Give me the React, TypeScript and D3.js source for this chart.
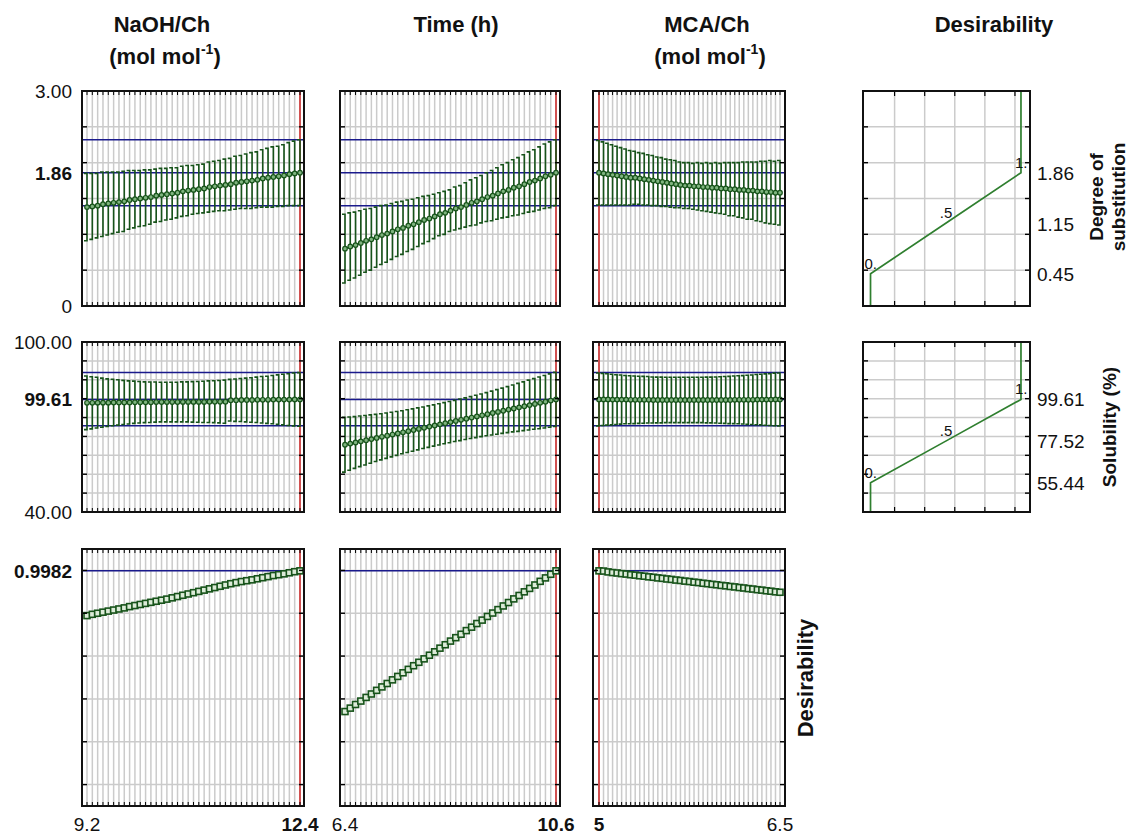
import React from 'react';
import * as d3 from 'd3';

// ---------- data ----------
const N = 41;
const naohRange = [9.2, 12.4];
const timeRange = [6.4, 10.6];
const mcaRange = [5, 6.5];
const currentSettings = [12.4, 10.6, 5];
const xTickLabels = [["9.2", "12.4"], ["6.4", "10.6"], ["5", "6.5"]];
const colTitles = [["NaOH/Ch", "(mol mol", "-1", ")"], ["Time (h)"], ["MCA/Ch", "(mol mol", "-1", ")"]];

// Degree of substitution (row 1)
const dsNaoh = [1.38,1.39,1.40,1.42,1.43,1.44,1.45,1.46,1.48,1.49,1.50,1.51,1.52,1.54,1.55,1.56,1.57,1.58,1.60,1.61,1.62,1.63,1.64,1.66,1.67,1.68,1.69,1.70,1.72,1.73,1.74,1.75,1.76,1.78,1.79,1.80,1.81,1.82,1.84,1.85,1.86];
const dsNaohCi = [0.47,0.46,0.45,0.45,0.44,0.43,0.42,0.42,0.41,0.40,0.39,0.39,0.38,0.37,0.37,0.36,0.36,0.35,0.35,0.35,0.34,0.34,0.34,0.35,0.35,0.35,0.36,0.36,0.37,0.37,0.38,0.39,0.39,0.40,0.41,0.42,0.42,0.43,0.44,0.45,0.46];
const dsTime = [0.80,0.83,0.85,0.88,0.91,0.93,0.96,0.99,1.01,1.04,1.07,1.09,1.12,1.14,1.17,1.20,1.22,1.25,1.28,1.30,1.33,1.36,1.38,1.41,1.44,1.46,1.49,1.52,1.54,1.57,1.60,1.62,1.65,1.67,1.70,1.73,1.75,1.78,1.81,1.83,1.86];
const dsTimeCi = [0.48,0.47,0.46,0.45,0.44,0.43,0.42,0.41,0.40,0.39,0.38,0.37,0.36,0.35,0.34,0.33,0.32,0.31,0.30,0.30,0.29,0.30,0.30,0.31,0.32,0.33,0.33,0.34,0.35,0.36,0.37,0.38,0.39,0.40,0.41,0.42,0.43,0.44,0.45,0.46,0.46];
const dsMca = [1.86,1.85,1.84,1.83,1.82,1.81,1.80,1.79,1.79,1.78,1.77,1.76,1.75,1.74,1.73,1.72,1.71,1.70,1.69,1.68,1.68,1.67,1.67,1.66,1.66,1.65,1.65,1.64,1.64,1.63,1.63,1.62,1.62,1.61,1.61,1.60,1.60,1.59,1.59,1.58,1.58];
const dsMcaCi = [0.45,0.44,0.43,0.42,0.41,0.40,0.39,0.38,0.37,0.36,0.36,0.35,0.35,0.34,0.34,0.33,0.33,0.33,0.32,0.32,0.32,0.32,0.33,0.33,0.34,0.34,0.35,0.35,0.36,0.37,0.37,0.38,0.39,0.40,0.40,0.41,0.42,0.43,0.44,0.44,0.45];

// Solubility (row 2)
const solNaoh = [97.8,97.8,97.9,97.9,97.9,98.0,98.0,98.0,98.0,98.1,98.1,98.1,98.1,98.2,98.2,98.2,98.2,98.2,98.3,98.3,98.3,98.3,98.3,98.4,98.4,98.4,98.4,99.2,99.2,99.3,99.3,99.3,99.4,99.4,99.4,99.5,99.5,99.5,99.5,99.6,99.6];
const solNaohCi = [14.2,13.8,13.4,13.0,12.6,12.3,12.0,11.7,11.4,11.2,11.0,10.8,10.7,10.6,10.5,10.5,10.5,10.5,10.6,10.6,10.7,10.8,10.9,11.0,11.1,11.2,11.4,11.0,11.2,11.4,11.6,11.8,12.0,12.3,12.5,12.8,13.1,13.4,13.7,14.0,14.2];
const solTime = [75.6,76.2,76.8,77.4,78.0,78.6,79.2,79.8,80.4,81.0,81.6,82.2,82.8,83.4,84.0,84.6,85.2,85.8,86.4,87.0,87.6,88.2,88.8,89.4,90.0,90.6,91.2,91.8,92.4,93.0,93.6,94.2,94.8,95.4,96.0,96.6,97.2,97.8,98.4,99.0,99.6];
const solTimeCi = [14.5,14.1,13.7,13.4,13.1,12.8,12.5,12.2,12.0,11.8,11.6,11.4,11.3,11.2,11.1,11.0,11.0,10.9,10.9,10.9,10.9,10.9,11.0,11.0,11.1,11.2,11.3,11.4,11.6,11.8,12.0,12.2,12.4,12.7,12.9,13.2,13.4,13.7,13.9,14.1,14.3];
const solMca = [99.6,99.6,99.6,99.5,99.5,99.5,99.5,99.4,99.4,99.4,99.4,99.4,99.3,99.3,99.3,99.3,99.3,99.3,99.3,99.3,99.3,99.3,99.3,99.3,99.3,99.3,99.3,99.3,99.3,99.3,99.4,99.4,99.4,99.4,99.4,99.5,99.5,99.5,99.5,99.6,99.6];
const solMcaCi = [14.0,13.8,13.6,13.4,13.2,13.0,12.8,12.7,12.6,12.5,12.4,12.3,12.2,12.1,12.1,12.0,12.0,12.0,12.0,12.0,12.0,12.0,12.0,12.0,12.1,12.1,12.2,12.3,12.4,12.5,12.6,12.7,12.8,13.0,13.1,13.3,13.4,13.6,13.7,13.9,14.0];

// Overall desirability (row 3)
const desNaoh = [0.789,0.795,0.800,0.805,0.810,0.815,0.820,0.825,0.831,0.836,0.841,0.846,0.851,0.856,0.861,0.866,0.872,0.878,0.884,0.890,0.896,0.902,0.908,0.914,0.920,0.926,0.932,0.938,0.943,0.948,0.952,0.956,0.961,0.966,0.971,0.976,0.980,0.984,0.989,0.994,0.998];
const desTime = [0.341,0.357,0.374,0.390,0.407,0.423,0.440,0.456,0.472,0.489,0.505,0.522,0.538,0.555,0.571,0.587,0.604,0.620,0.637,0.653,0.670,0.686,0.702,0.719,0.735,0.752,0.768,0.785,0.801,0.817,0.834,0.850,0.867,0.883,0.900,0.916,0.932,0.949,0.965,0.982,0.998];
const desMca = [0.998,0.997,0.993,0.990,0.988,0.985,0.983,0.980,0.978,0.975,0.973,0.970,0.968,0.965,0.963,0.960,0.958,0.955,0.953,0.950,0.948,0.945,0.943,0.940,0.938,0.935,0.933,0.930,0.928,0.925,0.923,0.920,0.918,0.915,0.913,0.910,0.908,0.905,0.903,0.900,0.898];

// Row axes
const rowDomains = [[0, 3], [40, 130], [-0.1, 1.1]];
const rowGrid = [[0.5, 1, 1.5, 2, 2.5], [50, 60, 70, 80, 90, 100, 110, 120], [0, 0.2, 0.4, 0.6, 0.8, 1.0]];
const rowTargets = [[1.40, 1.86, 2.32], [85.7, 99.61, 113.8], [0.9982]];
const rowTickValues = [[3, 1.86, 0], [130, 99.61, 40], [0.9982]];
const rowTickLabels = [["3.00", "1.86", "0"], ["100.00", "99.61", "40.00"], ["0.9982"]];
const rowTickBold = [[false, true, false], [false, true, false], [true]];

// Desirability functions (column 4)
const desFnD = [0, 0, 0.5, 1, 1];
const desFnDs = [0, 0.45, 1.155, 1.86, 3];
const desFnSol = [40, 55.44, 77.52, 99.61, 130];
const desFnLabels = ["0.", ".5", "1."];
const desGridD = [0.16, 0.36, 0.56, 0.76, 0.96];
const desRightValues = [[1.86, 1.15, 0.45], [99.61, 77.52, 55.44]];
const desRightLabels = [["1.86", "1.15", "0.45"], ["99.61", "77.52", "55.44"]];

// ---------- layout ----------
const W = 1131, H = 835;
const FONT = "'Liberation Sans', Arial, Helvetica, sans-serif";
const colBounds = [[82, 304], [340, 560], [593, 785]];
const colPoints = [[87, 300], [345, 556], [599, 780]];
const rowBounds = [[91, 306], [342, 512], [549, 806]];
const desBounds = [863, 1030];

const GRID = '#cbcbcb';
const BLUE = '#1a1a8c';
const RED = '#d03030';
const GREEN = '#17531a';
const DGREEN = '#2f7f2f';

export default function App() {
  const ranges = [naohRange, timeRange, mcaRange];
  const means = [[dsNaoh, dsTime, dsMca], [solNaoh, solTime, solMca]];
  const cis = [[dsNaohCi, dsTimeCi, dsMcaCi], [solNaohCi, solTimeCi, solMcaCi]];
  const desirs = [desNaoh, desTime, desMca];

  const yScales = rowDomains.map((dom, r) => d3.scaleLinear().domain(dom).range([rowBounds[r][1], rowBounds[r][0]]));
  const xScales = ranges.map((rg, c) => d3.scaleLinear().domain(rg).range(colPoints[c]));
  const xLevels = ranges.map(rg => d3.range(N).map(i => rg[0] + (i * (rg[1] - rg[0])) / (N - 1)));

  const panels: any[] = [];
  for (let r = 0; r < 3; r++) {
    for (let c = 0; c < 3; c++) {
      const x = xScales[c];
      const y = yScales[r];
      const [L, R] = colBounds[c];
      const [T, B] = rowBounds[r];
      const xs = xLevels[c];
      const els: any[] = [];
      els.push(<rect key="bg" x={L} y={T} width={R - L} height={B - T} fill="#fff" />);
      xs.forEach((v, i) => els.push(<line key={'vg' + i} x1={x(v)} x2={x(v)} y1={T} y2={B} stroke={GRID} strokeWidth={1.5} />));
      rowGrid[r].forEach((v, i) => els.push(<line key={'hg' + i} x1={L} x2={R} y1={y(v)} y2={y(v)} stroke={GRID} strokeWidth={1.5} />));
      rowTargets[r].forEach((v, i) => els.push(<line key={'bl' + i} x1={L} x2={R} y1={y(v)} y2={y(v)} stroke={BLUE} strokeWidth={1.5} />));
      const cx = x(currentSettings[c]);
      els.push(<line key="red" x1={cx} x2={cx} y1={T} y2={B} stroke={RED} strokeWidth={1.6} />);
      if (r < 2) {
        const m = means[r][c];
        const ci = cis[r][c];
        let d = '';
        xs.forEach((v, i) => {
          const px = x(v);
          const yu = y(m[i] + ci[i]);
          const yl = y(m[i] - ci[i]);
          d += `M${px},${yl}V${yu}M${px - 3},${yu}H${px + 0.8}M${px - 3},${yl}H${px + 0.8}`;
        });
        els.push(<path key="eb" d={d} stroke={GREEN} strokeWidth={1.6} fill="none" />);
        const line = d3.line<number>().x((v, i) => x(xs[i])).y(v => y(v));
        els.push(<path key="ml" d={line(m) || ''} stroke={GREEN} strokeWidth={1.5} fill="none" />);
        m.forEach((v, i) => els.push(<circle key={'mk' + i} cx={x(xs[i])} cy={y(v)} r={2.3} fill="#7fb47f" stroke={GREEN} strokeWidth={1.2} />));
      } else {
        const m = desirs[c];
        const line = d3.line<number>().x((v, i) => x(xs[i])).y(v => y(v));
        els.push(<path key="ml" d={line(m) || ''} stroke={GREEN} strokeWidth={1.4} fill="none" />);
        m.forEach((v, i) => els.push(<rect key={'sq' + i} x={x(xs[i]) - 3} y={y(v) - 3} width={6} height={6} fill="#dcebd8" stroke={GREEN} strokeWidth={1.6} />));
      }
      // ticks
      xs.forEach((v, i) => {
        els.push(<line key={'tt' + i} x1={x(v)} x2={x(v)} y1={T} y2={T + 4} stroke="#000" strokeWidth={1} />);
        els.push(<line key={'tb' + i} x1={x(v)} x2={x(v)} y1={B} y2={B - 4} stroke="#000" strokeWidth={1} />);
      });
      rowGrid[r].forEach((v, i) => {
        els.push(<line key={'tl' + i} x1={L} x2={L + 5} y1={y(v)} y2={y(v)} stroke="#000" strokeWidth={1.4} />);
        els.push(<line key={'tr' + i} x1={R} x2={R - 5} y1={y(v)} y2={y(v)} stroke="#000" strokeWidth={1.4} />);
      });
      els.push(<rect key="fr" x={L} y={T} width={R - L} height={B - T} fill="none" stroke="#111" strokeWidth={2} />);
      panels.push(<g key={`p${r}${c}`}>{els}</g>);
    }
  }

  // desirability function panels
  const dx = d3.scaleLinear().domain([-0.05, 1.06]).range(desBounds);
  const desPanels: any[] = [];
  [desFnDs, desFnSol].forEach((resp, r) => {
    const y = yScales[r];
    const [L, R] = desBounds;
    const [T, B] = rowBounds[r];
    const els: any[] = [];
    els.push(<rect key="bg" x={L} y={T} width={R - L} height={B - T} fill="#fff" />);
    desGridD.forEach((v, i) => els.push(<line key={'vg' + i} x1={dx(v)} x2={dx(v)} y1={T} y2={B} stroke={GRID} strokeWidth={1.5} />));
    rowGrid[r].forEach((v, i) => els.push(<line key={'hg' + i} x1={L} x2={R} y1={y(v)} y2={y(v)} stroke={GRID} strokeWidth={1.5} />));
    const pts = desFnD.map((d, i) => [d, resp[i]] as [number, number]);
    const line = d3.line<[number, number]>().x(p => dx(p[0])).y(p => y(p[1]));
    els.push(<path key="fn" d={line(pts) || ''} stroke={DGREEN} strokeWidth={1.7} fill="none" />);
    desFnLabels.forEach((t, i) => {
      const p = pts[i + 1];
      els.push(<text key={'fl' + i} x={dx(p[0]) - 6} y={y(p[1]) - 5} fontFamily={FONT} fontSize={15} fill="#111">{t}</text>);
    });
    desGridD.forEach((v, i) => {
      els.push(<line key={'tt' + i} x1={dx(v)} x2={dx(v)} y1={T} y2={T + 5} stroke="#000" strokeWidth={1.2} />);
      els.push(<line key={'tb' + i} x1={dx(v)} x2={dx(v)} y1={B} y2={B - 5} stroke="#000" strokeWidth={1.2} />);
    });
    rowGrid[r].forEach((v, i) => {
      els.push(<line key={'tl' + i} x1={L} x2={L + 5} y1={y(v)} y2={y(v)} stroke="#000" strokeWidth={1.4} />);
      els.push(<line key={'tr' + i} x1={R} x2={R - 5} y1={y(v)} y2={y(v)} stroke="#000" strokeWidth={1.4} />);
    });
    els.push(<rect key="fr" x={L} y={T} width={R - L} height={B - T} fill="none" stroke="#111" strokeWidth={2} />);
    desRightValues[r].forEach((v, i) => els.push(
      <text key={'rl' + i} x={1037} y={y(v) + 7} fontFamily={FONT} fontSize={19} fill="#111">{desRightLabels[r][i]}</text>
    ));
    desPanels.push(<g key={'d' + r}>{els}</g>);
  });

  // left axis labels
  const leftLabels: any[] = [];
  rowTickValues.forEach((vals, r) => vals.forEach((v, i) => leftLabels.push(
    <text key={`ll${r}${i}`} x={72} y={yScales[r](v) + 7} textAnchor="end" fontFamily={FONT} fontSize={19}
      fontWeight={rowTickBold[r][i] ? 'bold' : 'normal'} fill="#111">{rowTickLabels[r][i]}</text>
  )));

  // bottom axis labels
  const bottomLabels: any[] = [];
  ranges.forEach((rg, c) => rg.forEach((v, i) => bottomLabels.push(
    <text key={`bl${c}${i}`} x={xScales[c](v)} y={831} textAnchor="middle" fontFamily={FONT} fontSize={19}
      fontWeight={v === currentSettings[c] ? 'bold' : 'normal'} fill="#111">{xTickLabels[c][i]}</text>
  )));

  const titleX = [162, 456, 707];
  const titles = colTitles.map((t, c) => (
    <g key={'t' + c} fontFamily={FONT} fontWeight="bold" fontSize={22} fill="#111">
      <text x={titleX[c]} y={32} textAnchor="middle">{t[0]}</text>
      {t.length > 1 && (
        <text x={titleX[c] + 3} y={64} textAnchor="middle">
          <tspan>{t[1]}</tspan>
          <tspan dy={-10} fontSize={14}>{t[2]}</tspan>
          <tspan dy={10}>{t[3]}</tspan>
        </text>
      )}
    </g>
  ));

  return (
    <svg width={W} height={H} style={{ position: 'absolute', left: 0, top: 0, background: '#fff' }}>
      <rect x={0} y={0} width={W} height={H} fill="#fff" />
      {titles}
      <text x={994} y={32} textAnchor="middle" fontFamily={FONT} fontWeight="bold" fontSize={22} fill="#111">Desirability</text>
      {panels}
      {desPanels}
      {leftLabels}
      {bottomLabels}
      <g fontFamily={FONT} fontWeight="bold" fill="#111">
        <text transform="translate(1103,197) rotate(-90)" textAnchor="middle" fontSize={19}>Degree of</text>
        <text transform="translate(1125,197) rotate(-90)" textAnchor="middle" fontSize={19}>substitution</text>
        <text transform="translate(1116,427) rotate(-90)" textAnchor="middle" fontSize={19}>Solubility (%)</text>
        <text transform="translate(813,678) rotate(-90)" textAnchor="middle" fontSize={22}>Desirability</text>
      </g>
    </svg>
  );
}
